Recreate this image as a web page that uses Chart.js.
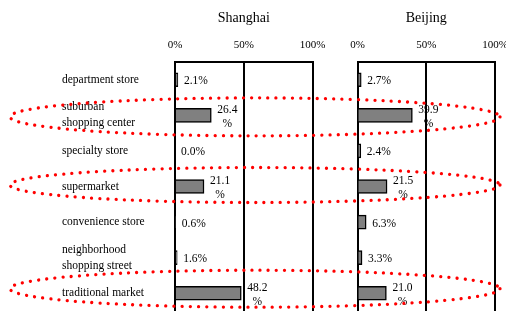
<!DOCTYPE html>
<html><head><meta charset="utf-8">
<script src="https://cdn.jsdelivr.net/npm/chart.js@4"></script>
<style>
html,body{margin:0;padding:0;background:#fff;overflow:hidden;width:506px;height:311px}
canvas{position:absolute;left:0;top:0}
</style></head>
<body>
<canvas id="c1" width="506" height="311"></canvas>
<canvas id="c2" width="506" height="311"></canvas>
<script>
const categories = [
  ['department store'],
  ['suburban', 'shopping center'],
  ['specialty store'],
  ['supermarket'],
  ['convenience store'],
  ['neighborhood', 'shopping street'],
  ['traditional market']
];
const shanghaiValues = [2.1, 26.4, 0.0, 21.1, 0.6, 1.6, 48.2];
const beijingValues  = [2.7, 39.9, 2.4, 21.5, 6.3, 3.3, 21.0];
const cityTitles = ['Shanghai', 'Beijing'];
const xTickValues = [0, 50, 100];
const highlightRows = [1, 3, 6];

const SERIF = '"Liberation Serif", "Times New Roman", serif';

const valueLabels = {
  id: 'valueLabels',
  afterDatasetsDraw(chart) {
    const ctx = chart.ctx;
    const meta = chart.getDatasetMeta(0);
    const vals = chart.data.datasets[0].data;
    ctx.save();
    ctx.fillStyle = '#000';
    ctx.font = '11.5px ' + SERIF;
    ctx.textBaseline = 'middle';
    meta.data.forEach((bar, i) => {
      const v = vals[i];
      const x = bar.x + 6;
      const y = bar.y;
      if (v >= 10) {
        const s = v.toFixed(1);
        const w = ctx.measureText(s).width;
        ctx.textAlign = 'left';
        ctx.fillText(s, x, y - 5.5);
        ctx.textAlign = 'center';
        ctx.fillText('%', x + w / 2, y + 8.5);
      } else {
        ctx.textAlign = 'left';
        ctx.fillText(v.toFixed(1) + '%', x, y + 1.5);
      }
    });
    ctx.restore();
  }
};

const ellipseShift = [1.5, -1.5, -4.5];
const ellipseRy = [19, 17.5, 18.5];
const ellipses = {
  id: 'ellipses',
  afterDraw(chart) {
    const ys = chart.scales.y;
    const ctx = chart.ctx;
    ctx.save();
    ctx.strokeStyle = '#ff0000';
    ctx.lineWidth = 3.3;
    ctx.lineCap = 'round';
    ctx.setLineDash([0.01, 8.2]);
    highlightRows.forEach((row, k) => {
      const cy = ys.getPixelForValue(row) + ellipseShift[k];
      ctx.beginPath();
      ctx.ellipse(255, cy, 245, ellipseRy[k], 0, 0, Math.PI * 2);
      ctx.stroke();
    });
    ctx.restore();
  }
};

function makeChart(id, title, values, showCats, padLeft, padRight, yWidth, extraPlugins) {
  return new Chart(document.getElementById(id), {
    type: 'bar',
    data: {
      labels: categories,
      datasets: [{
        data: values,
        backgroundColor: '#808080',
        borderColor: '#000',
        borderWidth: 1.5,
        borderSkipped: 'start',
        barThickness: 14
      }]
    },
    options: {
      indexAxis: 'y',
      responsive: false,
      animation: false,
      devicePixelRatio: 1,
      layout: { padding: { left: padLeft, right: padRight, top: 0, bottom: 0 } },
      plugins: { legend: { display: false }, tooltip: { enabled: false } },
      scales: {
        x: {
          position: 'top',
          min: 0, max: 100,
          afterBuildTicks(s) { s.ticks = xTickValues.map(v => ({ value: v })); },
          afterFit(s) { s.height = 62; s.paddingLeft = 0; s.paddingRight = 0; },
          ticks: {
            callback: v => v + '%',
            color: '#000',
            padding: 10,
            font: { family: SERIF, size: 11 }
          },
          grid: { color: '#000', lineWidth: 2, drawTicks: false },
          border: { display: true, color: '#000', width: 2 },
          title: {
            display: true, text: title, color: '#000',
            font: { family: SERIF, size: 14 },
            padding: { top: 10, bottom: 0 }
          }
        },
        y: {
          afterFit(s) { s.width = yWidth; s.paddingTop = 0; s.paddingBottom = 0; },
          ticks: {
            display: showCats,
            autoSkip: false,
            crossAlign: 'far',
            color: '#000',
            font: { family: SERIF, size: 11.5, lineHeight: 16 / 11.5 }
          },
          grid: { display: false },
          border: { display: true, color: '#000', width: 2 }
        }
      }
    },
    plugins: [valueLabels].concat(extraPlugins)
  });
}

makeChart('c1', cityTitles[0], shanghaiValues, true, 62, 193.5, 113, []);
makeChart('c2', cityTitles[1], beijingValues, false, 357.5, 11, 0, [ellipses]);
</script>
</body></html>
